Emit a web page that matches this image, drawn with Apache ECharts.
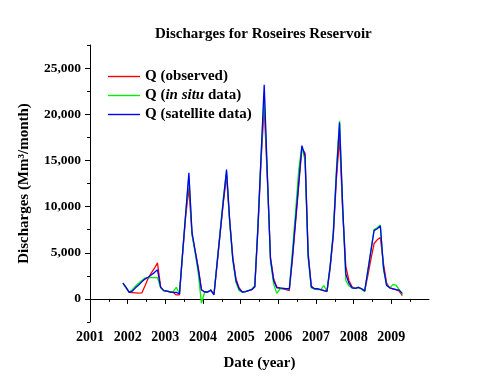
<!DOCTYPE html>
<html>
<head>
<meta charset="utf-8">
<script src="https://cdn.jsdelivr.net/npm/echarts@6/dist/echarts.min.js"></script>
<style>html,body{margin:0;padding:0;background:#fff}#c{width:500px;height:386px}</style>
</head>
<body>
<div id="c"></div>
<script>
// Monthly records, Nov 2001 .. Apr 2009
const startYear = 2001, startMonth = 11;
const observed = [
  1700, 1200,
  700, 680, 650, 620, 650, 1400, 2200, 2800, 3300, 3900, 1300, 900,
  850, 750, 700, 430, 450, 4800, 9000, 12000, 7000, 5200, 3400, 1000,
  750, 750, 950, 500, 3800, 7200, 10500, 13300, 8500, 4500, 2200, 1200,
  750, 800, 900, 1000, 1300, 7500, 15000, 20800, 13000, 4500, 2200, 1300,
  1150, 1100, 1000, 900, 4300, 8300, 12300, 16300, 15800, 5000, 1400, 1100,
  1100, 1000, 900, 800, 3300, 6800, 13000, 17500, 9500, 3500, 2000, 1300,
  1150, 1250, 1100, 850, 2500, 4300, 6000, 6400, 6650, 3800, 1700, 1200,
  1100, 1000, 850, 350
];
const inSitu = [
  1700, 1200,
  750, 1000, 1400, 1700, 2000, 2250, 2300, 2300, 2300, 2300, 1200, 900,
  850, 750, 800, 1260, 550, 5000, 9300, 13300, 7000, 5000, 2800, -450,
  700, 750, 950, 500, 4000, 7500, 11000, 13800, 8300, 4200, 1800, 900,
  750, 800, 900, 1050, 1400, 8000, 15500, 22300, 13300, 4200, 1600, 600,
  1100, 1150, 1100, 1050, 5200, 9500, 14000, 16500, 15000, 4500, 1200, 1100,
  1000, 1000, 1450, 800, 3600, 7200, 14000, 19300, 10000, 2000, 1400, 1200,
  1150, 1250, 1050, 800, 3000, 5300, 7500, 7700, 8000, 3200, 1500, 1200,
  1550, 1500, 1000, 500
];
const satellite = [
  1700, 1250,
  700, 850, 1200, 1500, 1850, 2150, 2350, 2600, 2850, 3150, 1250, 900,
  850, 750, 700, 700, 550, 5000, 9300, 13650, 7200, 5200, 3200, 1000,
  750, 750, 950, 450, 3900, 7300, 10700, 14000, 8500, 4300, 2000, 1100,
  750, 800, 900, 1000, 1340, 7800, 15500, 23200, 13500, 4300, 2000, 1200,
  1200, 1150, 1100, 1100, 4600, 8600, 12600, 16600, 15500, 4700, 1300, 1100,
  1100, 1000, 900, 850, 3500, 7000, 13500, 19100, 10000, 2700, 1700, 1200,
  1150, 1250, 1100, 850, 3000, 5200, 7400, 7600, 7900, 3400, 1450, 1200,
  1100, 1000, 950, 600
];
const xTickLabels = [2001, 2002, 2003, 2004, 2005, 2006, 2007, 2008, 2009];
const xMinorTicks = [2001.5, 2002.5, 2003.5, 2004.5, 2005.5, 2006.5, 2007.5, 2008.5, 2009.5];
const yTickLabels = [0, 5000, 10000, 15000, 20000, 25000];
const yMinorTicks = [-2500, 2500, 7500, 12500, 17500, 22500, 27500];

function decYear(i) {
  const m0 = (startMonth - 1) + i;
  return startYear + Math.floor(m0 / 12) + ((m0 % 12) + 0.5) / 12;
}
function pairs(arr) { return arr.map((v, i) => [decYear(i), v]); }

const FONT = 'Liberation Serif';
const chart = echarts.init(document.getElementById('c'));
const lineS = (name, data, color) => ({
  name, type: 'line', data: pairs(data), symbol: 'none',
  lineStyle: { color, width: 1.3 }, itemStyle: { color }, animation: false
});
chart.setOption({
  animation: false,
  backgroundColor: '#fff',
  title: {
    text: 'Discharges for Roseires Reservoir', left: 150, top: 22,
    textStyle: { fontFamily: FONT, fontWeight: 'bold', fontSize: 15, color: '#000' }
  },
  legend: {
    orient: 'vertical', left: 103, top: 64, itemWidth: 32, itemHeight: 1.4, itemGap: 4,
    icon: 'rect',
    data: ['obs', 'ins', 'sat'],
    formatter: function (n) {
      if (n === 'obs') return '{n|Q (observed)}';
      if (n === 'ins') return '{n|Q (}{i|in situ}{n| data)}';
      return '{n|Q (satellite data)}';
    },
    textStyle: {
      fontFamily: FONT, fontWeight: 'bold', fontSize: 15, color: '#000',
      rich: {
        n: { fontFamily: FONT, fontWeight: 'bold', fontSize: 15, color: '#000', lineHeight: 17 },
        i: { fontFamily: FONT, fontWeight: 'bold', fontStyle: 'italic', fontSize: 15, color: '#000', lineHeight: 17 }
      }
    }
  },
  grid: { left: 90, right: 71, top: 45, bottom: 64 },
  xAxis: [{
    type: 'value', min: 2001, max: 2010, position: 'bottom',
    name: 'Date (year)', nameLocation: 'middle', nameGap: 34,
    nameTextStyle: { fontFamily: FONT, fontWeight: 'bold', fontSize: 15, color: '#000' },
    axisLine: { lineStyle: { color: '#000', width: 1 } },
    axisTick: { customValues: xTickLabels, length: 5, lineStyle: { color: '#000' } },
    axisLabel: { customValues: xTickLabels, formatter: v => String(v), margin: 8,
      fontFamily: FONT, fontWeight: 'bold', fontSize: 14, color: '#000' },
    splitLine: { show: false }
  }, {
    type: 'value', min: 2001, max: 2010, position: 'bottom',
    axisLine: { show: false },
    axisTick: { customValues: xMinorTicks, length: 3, lineStyle: { color: '#000' } },
    axisLabel: { show: false }, splitLine: { show: false }
  }],
  yAxis: [{
    type: 'value', min: -2500, max: 27500, position: 'left',
    name: 'Discharges (Mm³/month)', nameLocation: 'middle', nameGap: 58,
    nameTextStyle: { fontFamily: FONT, fontWeight: 'bold', fontSize: 15, color: '#000' },
    axisLine: { show: true, lineStyle: { color: '#000', width: 1 } },
    axisTick: { show: true, customValues: yTickLabels, length: 5, lineStyle: { color: '#000' } },
    axisLabel: { customValues: yTickLabels, margin: 9,
      formatter: v => v.toLocaleString('en-US'),
      fontFamily: FONT, fontWeight: 'bold', fontSize: 13.5, color: '#000' },
    splitLine: { show: false }
  }, {
    type: 'value', min: -2500, max: 27500, position: 'left',
    axisLine: { show: false },
    axisTick: { show: true, customValues: yMinorTicks, length: 3, lineStyle: { color: '#000' } },
    axisLabel: { show: false }, splitLine: { show: false }
  }],
  series: [
    lineS('obs', observed, '#ff0000'),
    lineS('ins', inSitu, '#00ee00'),
    lineS('sat', satellite, '#0000ff')
  ]
});
</script>
</body>
</html>
